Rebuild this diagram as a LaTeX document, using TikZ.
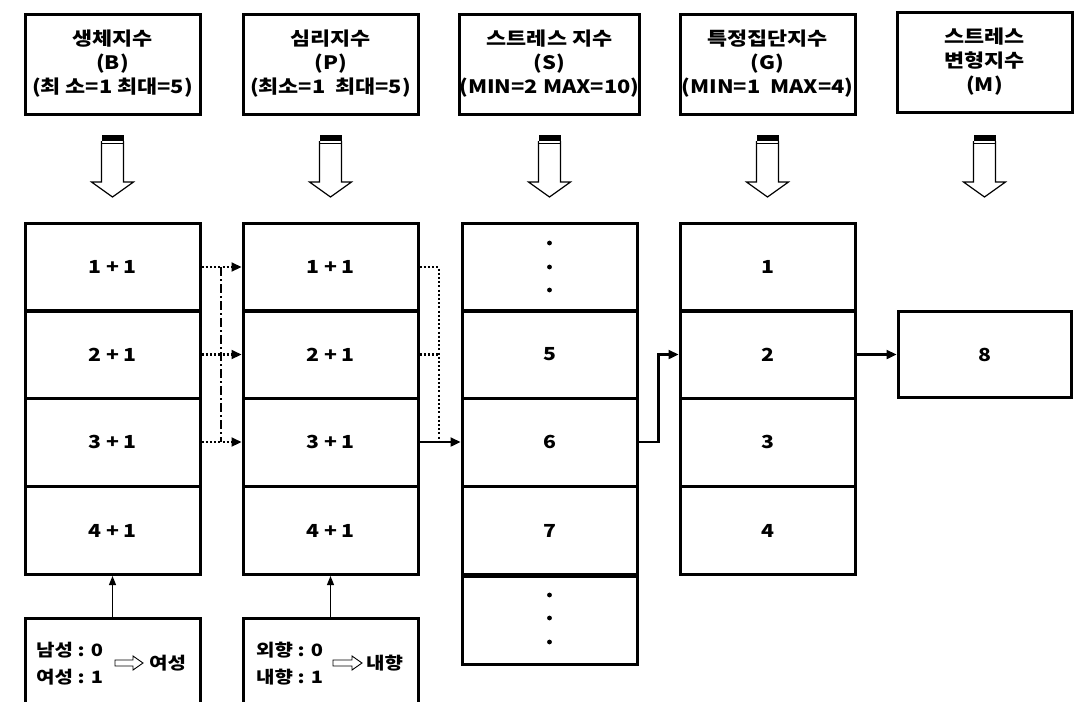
\documentclass[tikz,border=0pt]{standalone}
\usepackage{fontspec}
\setmainfont{Noto Sans CJK KR}[FakeStretch=1.18]
\usetikzlibrary{arrows.meta}
\begin{document}
\begin{tikzpicture}[x=1pt,y=-1pt,
  cell/.style={draw, line width=3pt, minimum width=175pt, minimum height=88pt, inner sep=0pt,
    font=\bfseries\fontsize{18}{23}\selectfont},
  head/.style={draw, line width=3pt, minimum width=175pt, minimum height=100pt, inner sep=0pt,
    align=center, font=\bfseries\fontsize{18.5}{24}\selectfont},
  note/.style={draw, line width=3pt, minimum width=175pt, minimum height=104pt, inner sep=0pt},
  notetext/.style={inner sep=0pt, align=left, font=\bfseries\fontsize{17}{27}\selectfont},
  tip/.style={-{Triangle[length=10pt,width=9pt]}},
  conn/.style={line width=2.3pt, tip},
  dotconn/.style={line width=2.2pt, dash pattern=on 2pt off 2.2pt, tip},
  dotline/.style={line width=2.2pt, dash pattern=on 2pt off 2.2pt},
  dashdotline/.style={line width=2.2pt, dash pattern=on 9pt off 3pt on 2pt off 3pt},
  upconn/.style={line width=1pt, -{Triangle[length=9pt,width=7pt]}},
  blockarrow/.style={line width=1.2pt}
]
\clip (0,0) rectangle (1080,702);
\fill[white] (0,0) rectangle (1080,702);

% headers
\node[head] (hb) at (112.5,64) {생체지수\\(B)\\(최 소=1 최대=5)};
\node[head] (hp) at (330.5,64) {심리지수\\(P)\\(최소=1~ 최대=5)};
\node[head] (hs) at (549.5,64) {스트레스 지수\\(S)\\(MIN=2 MAX=10)};
\node[head] (hg) at (767.5,64) {특정집단지수\\(G)\\(MIN=1~ MAX=4)};
\node[head] (hm) at (984.5,62) {스트레스\\변형지수\\(M)};

% block arrows
\foreach \x in {112.5,330.5,549.5,767.5,984.5} {
  \fill (\x-11,135) rectangle (\x+11,141);
  \draw[blockarrow] (\x-11,143.5) -- (\x+11,143.5);
  \draw[blockarrow, line join=miter] (\x-11,141) -- (\x-11,182) -- (\x-21,182) -- (\x,197)
     -- (\x+21,182) -- (\x+11,182) -- (\x+11,141);
}

% column B
\node[cell] (b1) at (112.5,267) {1 + 1};
\node[cell] (b2) at (112.5,354.5) {2 + 1};
\node[cell] (b3) at (112.5,442) {3 + 1};
\node[cell] (b4) at (112.5,530.5) {4 + 1};
% column P
\node[cell] (p1) at (330.5,267) {1 + 1};
\node[cell] (p2) at (330.5,354.5) {2 + 1};
\node[cell] (p3) at (330.5,442) {3 + 1};
\node[cell] (p4) at (330.5,530.5) {4 + 1};
% column S
\node[cell] (s1) at (549.5,267) {};
\node[cell] (s2) at (549.5,354.5) {5};
\node[cell] (s3) at (549.5,442) {6};
\node[cell] (s4) at (549.5,530.5) {7};
\node[cell] (s5) at (549.5,620) {};
\foreach \y in {243,267,290,595,618,642} { \fill (549.5,\y) circle (2.4); }
% column G
\node[cell] (g1) at (767.5,267) {1};
\node[cell] (g2) at (767.5,354.5) {2};
\node[cell] (g3) at (767.5,442) {3};
\node[cell] (g4) at (767.5,530.5) {4};
% M
\node[cell, minimum width=173pt, minimum height=86pt] (m) at (984.5,354.5) {8};

% connectors B -> P
\draw[dotconn] (b1.east) -- (p1.west);
\draw[dotconn] (b2.east) -- (p2.west);
\draw[dotconn] (b3.east) -- (p3.west);
\coordinate (v1t) at (221,267);
\coordinate (v1b) at (221,442);
\draw[dashdotline] (v1t) -- (v1b);

% connectors P -> S
\coordinate (v2t) at (439,267);
\coordinate (v2m) at (439,354.5);
\coordinate (v2b) at (439,442);
\draw[dotline] (p1.east) -- (v2t) -- (v2b);
\draw[dotline] (p2.east) -- (v2m);
\draw[conn] (p3.east) -- (s3.west);

% S -> G -> M
\draw[conn] (s3.east) -- ++(20,0) |- (g2.west);
\draw[conn] (g2.east) -- (m.west);

% bottom notes
\node[note] (nb) at (112.5,670) {};
\node[note] (np) at (330.5,670) {};
\draw[upconn] (nb.north) -- (b4.south);
\draw[upconn] (np.north) -- (p4.south);

\node[notetext, anchor=west] (nb1) at (36,664) {남성 : 0\\여성 : 1};
\node[notetext, anchor=west] (nb2) at (149,663) {여성};
\draw[line width=0.9pt, line join=miter] (115,660) -- (133,660) -- (133,656) -- (143,663) -- (133,670) -- (133,666) -- (115,666) -- cycle;

\node[notetext, anchor=west] (np1) at (256,664) {외향 : 0\\내향 : 1};
\node[notetext, anchor=west] (np2) at (366,663) {내향};
\draw[line width=0.9pt, line join=miter] (333,660) -- (352,660) -- (352,656) -- (362,663) -- (352,670) -- (352,666) -- (333,666) -- cycle;
\end{tikzpicture}
\end{document}
